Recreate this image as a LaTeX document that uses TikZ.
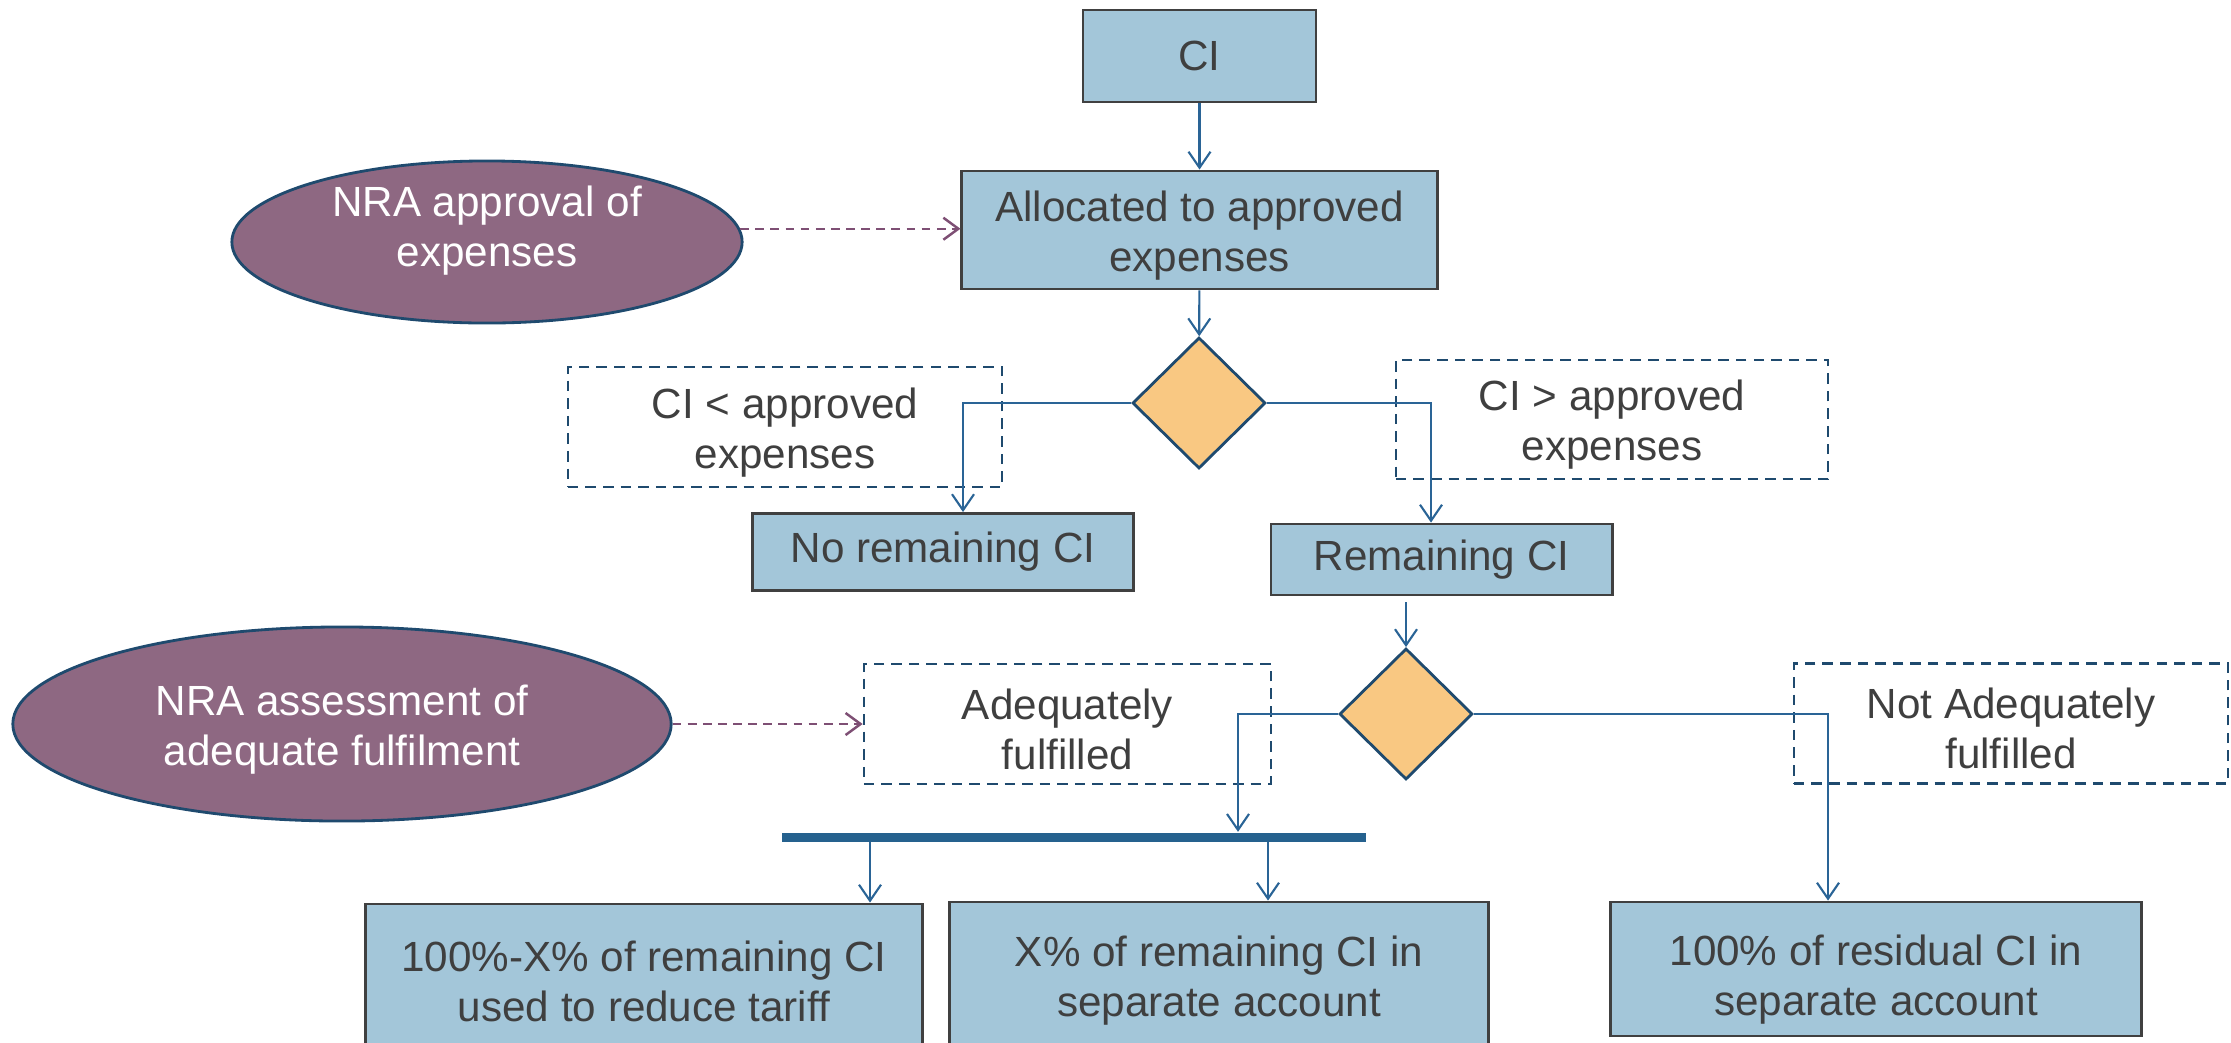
\documentclass[tikz,border=0pt]{standalone}
\usepackage{fontspec}
\setmainfont{Liberation Sans}
\usetikzlibrary{shapes.geometric,arrows.meta}

\definecolor{boxfill}{HTML}{A3C6D9}
\definecolor{boxline}{HTML}{404040}
\definecolor{txtgray}{HTML}{3F3F3F}
\definecolor{decfill}{HTML}{F9C882}
\definecolor{navy}{HTML}{1F4A6E}
\definecolor{mauve}{HTML}{8E6882}
\definecolor{flow}{HTML}{2A6496}
\definecolor{barblue}{HTML}{25618E}
\definecolor{plum}{HTML}{7E4F74}

% invisible strut that sets the two-line texts a little lower in their boxes
\newcommand\tallline[1][4.1mm]{\rule{0pt}{#1}}

\begin{document}
\begin{tikzpicture}[x=0.01cm,y=-0.01cm,
  font=\fontsize{12}{14.2}\selectfont,
  stepbox/.style={draw=boxline, line width=0.8pt, fill=boxfill, text=txtgray,
    align=center, inner sep=0pt},
  cond/.style={draw=navy, line width=0.7pt, dash pattern=on 3pt off 2pt,
    text=txtgray, align=center, inner sep=0pt},
  decision/.style={diamond, draw=navy, line width=0.8pt, fill=decfill, inner sep=0pt},
  agency/.style={ellipse, draw=navy, line width=0.8pt, fill=mauve, inner sep=0pt,
    text=white, align=center},
  flowline/.style={draw=flow, line width=0.6pt,
    -{Straight Barb[length=1.6mm,width=2.2mm]}},
  influence/.style={draw=plum, line width=0.7pt, dash pattern=on 2.5pt off 1.8pt,
    -{Straight Barb[length=1.5mm,width=2.2mm]}},
]
\useasboundingbox (0,0) rectangle (2231,1042);

% main column
\node[stepbox, minimum width=2.33cm, minimum height=0.92cm] (ci) at (1199.5,56) {CI};
\node[stepbox, minimum width=4.75cm, minimum height=1.18cm] (alloc) at (1199.5,230)
  {\tallline Allocated to approved\\expenses};
\node[decision, minimum width=1.33cm, minimum height=1.31cm] (d1) at (1199,403) {};

% conditions of the first decision
\node[cond, minimum width=4.34cm, minimum height=1.20cm] (lt) at (785,427)
  {\tallline CI < approved\\expenses};
\node[cond, minimum width=4.32cm, minimum height=1.19cm] (gt) at (1612,419.5)
  {\tallline CI > approved\\expenses};
\node[stepbox, minimum width=3.80cm, minimum height=0.77cm] (none) at (943,552)
  {No remaining CI};
\node[stepbox, minimum width=3.41cm, minimum height=0.71cm] (rem) at (1441.5,559.5)
  {Remaining CI};

% second decision
\node[decision, minimum width=1.33cm, minimum height=1.31cm] (d2) at (1406,714) {};
\node[cond, minimum width=4.07cm, minimum height=1.20cm] (adeq) at (1067.5,724)
  {\tallline Adequately\\fulfilled};
\node[cond, minimum width=4.34cm, minimum height=1.20cm] (nadeq) at (2011,723.5)
  {\tallline Not Adequately\\fulfilled};

% regulator inputs
\node[agency, minimum width=5.10cm, minimum height=1.62cm] (nra1) at (487,242) {};
\node[text=white, align=center, inner sep=0pt] (nra1t) at (487,231)
  {NRA approval of\\expenses};
\node[agency, minimum width=6.58cm, minimum height=1.94cm] (nra2) at (342,724)
  {\tallline NRA assessment of\\adequate fulfilment};

% split bar and outcomes
\node[fill=barblue, inner sep=0pt, minimum width=5.84cm, minimum height=0.09cm]
  (split) at (1074,837) {};
\node[stepbox, minimum width=5.56cm, minimum height=1.44cm] (tariff) at (644,976)
  {\tallline 100\%-X\% of remaining CI\\used to reduce tariff};
\node[stepbox, minimum width=5.38cm, minimum height=1.46cm] (sep) at (1219,975)
  {\tallline X\% of remaining CI in\\separate account};
\node[stepbox, minimum width=5.30cm, minimum height=1.34cm] (resid) at (1876,969)
  {\tallline[5.1mm]100\% of residual CI in\\separate account};

% turning points of the branches
\coordinate (lturn) at (963,403);
\coordinate (rturn) at (1431,401);
\coordinate (ladj) at (1238,714);
\coordinate (radj) at (1828,715);
\coordinate (s1) at (870,842);
\coordinate (s2) at (1268,842);

% connectors
\draw[flowline] (ci) -- (alloc);
\draw[flowline] (alloc) -- (d1);
\draw[flowline] (d1.west) -| (lturn |- none.north);
\draw[flowline] (d1.east) -| (rturn |- rem.north);
\draw[flowline] (d2.north |- rem.south) ++(0,6) -- (d2.north);
\draw[flowline] (d2.west) -| (ladj |- split.north);
\draw[flowline] (d2.east) -| (radj |- resid.north);
\draw[flowline] (s1 |- split.south) -- (s1 |- tariff.north);
\draw[flowline] (s2 |- split.south) -- (s2 |- sep.north);

\draw[influence] (nra1.3) -- (nra1.3 -| alloc.west);
\draw[influence] (nra2.east) -- (nra2.east -| adeq.west);
\end{tikzpicture}
\end{document}
